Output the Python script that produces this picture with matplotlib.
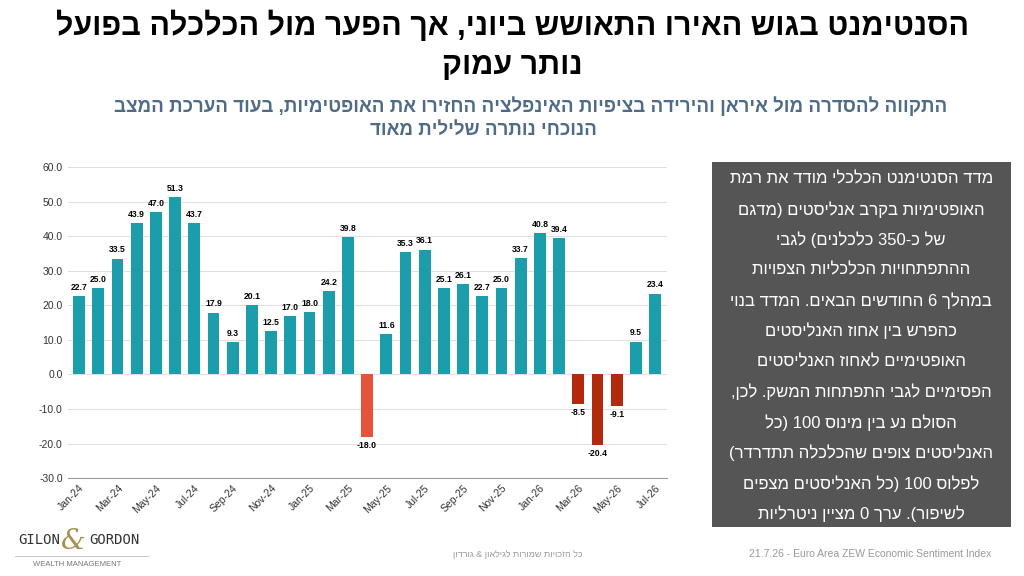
import re
import matplotlib
matplotlib.use("Agg")
import matplotlib.pyplot as plt
import numpy as np

plt.rcParams['font.family'] = ['Liberation Sans', 'DejaVu Sans']


def rtl(s):
    # matplotlib has no bidi: reverse Hebrew, keep number/latin runs left-to-right
    r = s[::-1]
    r = re.sub(r'[A-Za-z0-9][A-Za-z0-9.]*', lambda m: m.group(0)[::-1], r)
    return r.translate(str.maketrans('()', ')('))


months = ["Jan-24", "Feb-24", "Mar-24", "Apr-24", "May-24", "Jun-24", "Jul-24", "Aug-24",
          "Sep-24", "Oct-24", "Nov-24", "Dec-24", "Jan-25", "Feb-25", "Mar-25", "Apr-25",
          "May-25", "Jun-25", "Jul-25", "Aug-25", "Sep-25", "Oct-25", "Nov-25", "Dec-25",
          "Jan-26", "Feb-26", "Mar-26", "Apr-26", "May-26", "Jun-26", "Jul-26"]
values = [22.7, 25.0, 33.5, 43.9, 47.0, 51.3, 43.7, 17.9, 9.3, 20.1, 12.5, 17.0, 18.0,
          24.2, 39.8, -18.0, 11.6, 35.3, 36.1, 25.1, 26.1, 22.7, 25.0, 33.7, 40.8, 39.4,
          -8.5, -20.4, -9.1, 9.5, 23.4]

teal = "#1b9dab"
colors = [teal] * len(values)
colors[15] = "#e5543a"
for i in (26, 27, 28):
    colors[i] = "#b3290e"

fig = plt.figure(figsize=(10.24, 5.76), dpi=100)
ax = fig.add_axes([0.066, 0.17, 0.585, 0.54])
x = np.arange(len(values))
ax.bar(x, values, width=0.62, color=colors, zorder=3)
for xi, v in zip(x, values):
    if v >= 0:
        ax.text(xi, v + 1.2, f"{v:.1f}", ha='center', va='bottom', fontsize=6.2,
                fontweight='bold')
    else:
        ax.text(xi, v - 1.2, f"{v:.1f}", ha='center', va='top', fontsize=6.2,
                fontweight='bold')

ax.set_xlim(-0.6, len(values) - 0.4)
ax.set_ylim(-30, 60)
ax.set_yticks(np.arange(-30, 61, 10))
ax.set_yticklabels([f"{t:.1f}" for t in np.arange(-30, 61, 10)], fontsize=7.5, color="#333333")
ax.set_xticks(x[::2])
ax.set_xticklabels(months[::2], rotation=45, ha='right', fontsize=7.5, color="#333333",
                   rotation_mode='anchor')
ax.grid(axis='y', color="#e0e0e0", lw=0.8, zorder=0)
for s in ('top', 'right', 'left'):
    ax.spines[s].set_visible(False)
ax.spines['bottom'].set_color("#999999")
ax.tick_params(length=0)

fig.text(0.5, 0.955, rtl("הסנטימנט בגוש האירו התאושש ביוני, אך הפער מול הכלכלה בפועל"),
         ha='center', va='center', fontsize=22, fontweight='bold')
fig.text(0.5, 0.885, rtl("נותר עמוק"), ha='center', va='center', fontsize=22, fontweight='bold')
sub = "#4f6b86"
fig.text(0.518, 0.815, rtl("התקווה להסדרה מול איראן והירידה בציפיות האינפלציה החזירו את האופטימיות, בעוד הערכת המצב"),
         ha='center', va='center', fontsize=13.5, fontweight='bold', color=sub)
fig.text(0.472, 0.773, rtl("הנוכחי נותרה שלילית מאוד"),
         ha='center', va='center', fontsize=13.5, fontweight='bold', color=sub)

box = fig.add_axes([0.695, 0.085, 0.292, 0.633])
box.set_facecolor("#555555")
box.set_xticks([])
box.set_yticks([])
for s in box.spines.values():
    s.set_visible(False)
lines = ["מדד הסנטימנט הכלכלי מודד את רמת",
         "האופטימיות בקרב אנליסטים (מדגם",
         "של כ-350 כלכלנים) לגבי",
         "ההתפתחויות הכלכליות הצפויות",
         "במהלך 6 החודשים הבאים. המדד בנוי",
         "כהפרש בין אחוז האנליסטים",
         "האופטימיים לאחוז האנליסטים",
         "הפסימיים לגבי התפתחות המשק. לכן,",
         "הסולם נע בין מינוס 100 (כל",
         "האנליסטים צופים שהכלכלה תתדרדר)",
         "לפלוס 100 (כל האנליסטים מצפים",
         "לשיפור). ערך 0 מציין ניטרליות"]
for i, ln in enumerate(lines):
    box.text(0.5, 0.955 - i * 0.0835, rtl(ln), ha='center', va='center', color='white',
             fontsize=12, transform=box.transAxes)

fig.text(0.038, 0.063, "GILON", ha='center', va='center', fontsize=10,
         color="#333333", family='DejaVu Sans Mono')
fig.text(0.112, 0.063, "GORDON", ha='center', va='center', fontsize=10,
         color="#333333", family='DejaVu Sans Mono')
fig.text(0.072, 0.06, "&", ha='center', va='center', fontsize=20, color="#a89050",
         family='DejaVu Serif', style='italic')
fig.add_artist(plt.Line2D([0.015, 0.145], [0.035, 0.035], color="#bbbbbb", lw=0.6))
fig.text(0.075, 0.02, "WEALTH MANAGEMENT", ha='center', va='center', fontsize=5.5, color="#777777")
fig.text(0.506, 0.038, rtl("כל הזכויות שמורות לגילאון & גורדון"), ha='center', va='center',
         fontsize=6.5, color="#999999")
fig.text(0.85, 0.038, "21.7.26 - Euro Area ZEW Economic Sentiment Index", ha='center',
         va='center', fontsize=7.5, color="#999999")

fig.savefig("out.png", dpi=100)
